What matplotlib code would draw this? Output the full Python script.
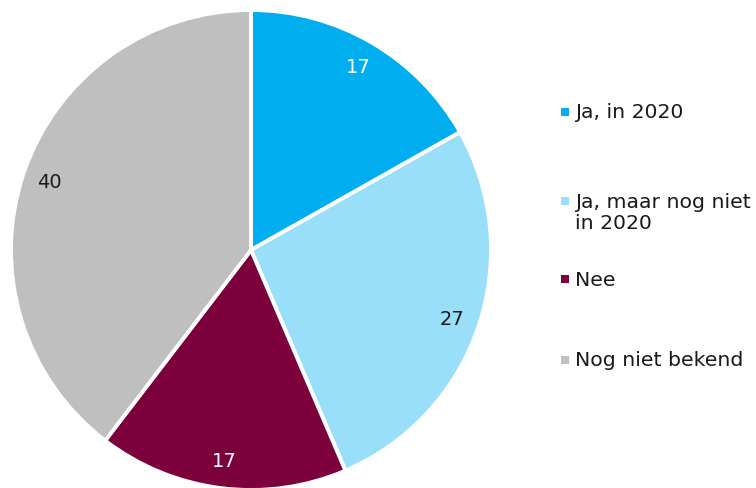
import matplotlib
matplotlib.use("Agg")
import matplotlib.pyplot as plt

categories = ["Ja, in 2020", "Ja, maar nog niet\nin 2020", "Nee", "Nog niet bekend"]
values = [17, 27, 17, 40]
colors = ["#00AEEF", "#99DFFA", "#7B003C", "#BFBFBF"]
label_colors = ["white", "#1a1a1a", "white", "#1a1a1a"]

plt.rcParams['font.family'] = ['DejaVu Sans']
W, H = 756, 489
fig = plt.figure(figsize=(W/100, H/100), dpi=100)
ax = fig.add_axes([0, 0, 1, 1])

cx, cy, R = 251, 238, 240
wedges, texts = ax.pie(values, colors=colors, startangle=90, counterclock=False,
                       labels=[str(v) for v in values], labeldistance=0.885,
                       wedgeprops=dict(edgecolor="white", linewidth=2.8),
                       textprops=dict(fontsize=14))
for t, c in zip(texts, label_colors):
    t.set_color(c)
    t.set_ha("center"); t.set_va("center")

ax.set_xlim(-cx/R, (W-cx)/R)
ax.set_ylim(-cy/R, (H-cy)/R)
ax.axis("off")

leg_y = [113, 202, 280, 361]
line_gap = 22
for cat, col, y in zip(categories, colors, leg_y):
    fig.patches.append(plt.Rectangle((561/W, 1 - (y + 4)/H), 8/W, 8/H, transform=fig.transFigure,
                                     facecolor=col, edgecolor="none"))
    for i, line in enumerate(cat.split("\n")):
        fig.text(575/W, 1 - (y + i*line_gap)/H, line, fontsize=14.7, va="center", ha="left",
                 color="#1a1a1a")

fig.savefig("out.png", dpi=100)
